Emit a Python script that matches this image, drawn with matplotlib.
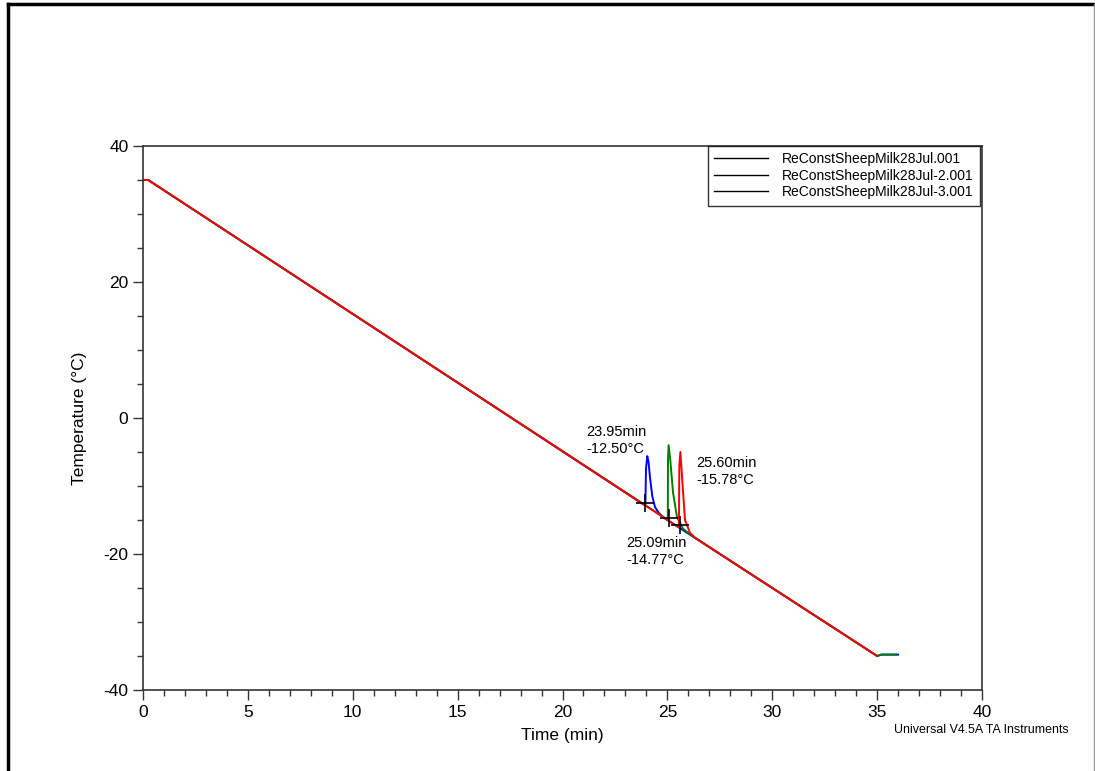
import matplotlib.pyplot as plt
from matplotlib.lines import Line2D
from matplotlib.ticker import MultipleLocator

plt.rcParams['font.family'] = ['Liberation Sans', 'DejaVu Sans']
plt.rcParams['axes.unicode_minus'] = False

# common cooling ramp: hold at 35, ramp to -35, short hold at the end
base_t = [0.0, 0.25, 35.0, 35.2]
base_T = [35.0, 35.0, -35.0, -34.8]
end_t = {'run1': 36.0, 'run2': 35.9, 'run3': 35.1}

# freezing exotherms (time min, temp C)
peak1_t = [23.95, 23.98, 24.04, 24.10, 24.17, 24.28, 24.41, 24.60, 24.85]
peak1_T = [-12.9, -7.5, -5.6, -6.4, -8.7, -11.5, -13.1, -14.0, -14.7]
peak2_t = [25.02, 25.03, 25.06, 25.14, 25.27, 25.46, 25.75, 26.17]
peak2_T = [-15.0, -6.0, -4.0, -6.2, -11.0, -14.6, -16.3, -17.3]
peak3_t = [25.55, 25.57, 25.62, 25.70, 25.84, 26.08, 26.35]
peak3_T = [-16.1, -7.0, -5.0, -8.7, -15.0, -16.9, -17.7]

onset_t = [23.95, 25.09, 25.60]
onset_T = [-12.50, -14.77, -15.78]

run_names = ['ReConstSheepMilk28Jul.001', 'ReConstSheepMilk28Jul-2.001',
             'ReConstSheepMilk28Jul-3.001']


def build_run(pk_t, pk_T, t_end):
    t = base_t[:2] + pk_t + base_t[2:3] + [base_t[3], t_end]
    T = base_T[:2] + pk_T + base_T[2:3] + [base_T[3], base_T[3]]
    return t, T


fig = plt.figure(figsize=(10.95, 7.71), dpi=100)
ax = fig.add_axes([0.1306, 0.1051, 0.7662, 0.7055])

for (pt, pT), key, col in zip([(peak1_t, peak1_T), (peak2_t, peak2_T), (peak3_t, peak3_T)],
                              ['run1', 'run2', 'run3'],
                              ['#0000ff', '#008000', '#ff0000']):
    t, T = build_run(pt, pT, end_t[key])
    if key == 'run3':
        t, T = t[:-2], T[:-2]
    ax.plot(t, T, color=col, lw=1.4)

ax.plot(onset_t, onset_T, ls='none', marker='+', ms=13, mew=1.2, color='black', zorder=5)

ax.text(21.12, -1.0, '%.2fmin\n%.2f°C' % (onset_t[0], onset_T[0]),
        fontsize=10.5, va='top', ha='left', linespacing=1.25)
ax.text(23.03, -17.35, '%.2fmin\n%.2f°C' % (onset_t[1], onset_T[1]),
        fontsize=10.5, va='top', ha='left', linespacing=1.25)
ax.text(26.36, -5.6, '%.2fmin\n%.2f°C' % (onset_t[2], onset_T[2]),
        fontsize=10.5, va='top', ha='left', linespacing=1.25)

ax.set_xlim(0, 40)
ax.set_ylim(-40, 40)
ax.xaxis.set_major_locator(MultipleLocator(5))
ax.xaxis.set_minor_locator(MultipleLocator(1))
ax.yaxis.set_major_locator(MultipleLocator(20))
ax.yaxis.set_minor_locator(MultipleLocator(5))
ax.tick_params(which='major', direction='out', length=7, width=1, labelsize=12.5, color='#333333')
ax.tick_params(which='minor', direction='out', length=4, width=1, color='#333333')
for sp in ax.spines.values():
    sp.set_color('#333333')
    sp.set_linewidth(1.2)

ax.set_xlabel('Time (min)', fontsize=12.5, labelpad=6)
ax.set_ylabel('Temperature (°C)', fontsize=12.5, labelpad=12)

handles = [Line2D([], [], color='black', lw=1) for _ in run_names]
leg = ax.legend(handles, run_names, loc='upper right', bbox_to_anchor=(0.9975, 1.0),
                fontsize=10, frameon=True, fancybox=False, handlelength=3.9,
                borderpad=0.45, labelspacing=0.18, handletextpad=1.0,
                borderaxespad=0)
leg.get_frame().set_edgecolor('black')
leg.get_frame().set_linewidth(1)

fig.text(0.976, 0.053, 'Universal V4.5A TA Instruments', fontsize=8.9, ha='right', va='center')

# page border
fig.add_artist(Line2D([0.0075, 0.0075], [0.0, 0.995], color='black', lw=2.5))
fig.add_artist(Line2D([0.0075, 0.999], [0.995, 0.995], color='black', lw=2.5))
fig.add_artist(Line2D([0.9995, 0.9995], [0.0, 0.995], color='#999999', lw=1))

fig.savefig('out.png', dpi=100)
